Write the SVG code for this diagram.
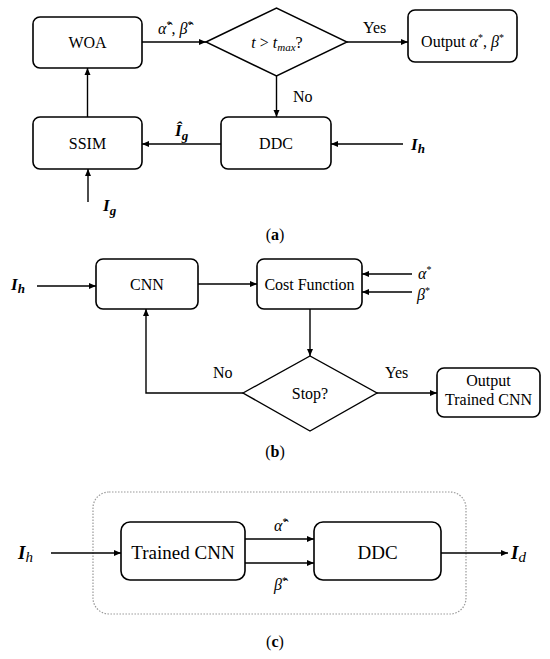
<svg xmlns="http://www.w3.org/2000/svg" width="550" height="659" viewBox="0 0 550 659">
<style>
.box{fill:#fff;stroke:#000;stroke-width:1.6}
.dia{fill:#fff;stroke:#000;stroke-width:1.4}
.ln{fill:none;stroke:#000;stroke-width:1.4}
.t{font-size:16px;text-anchor:middle}
.m{font-style:italic}
.b{font-weight:bold;font-style:italic}
.cap{font-size:16px;text-anchor:middle}
</style>
<defs>
<marker id="ah" markerWidth="8" markerHeight="8" refX="7" refY="4" orient="auto" markerUnits="userSpaceOnUse">
<path d="M0,1 L7,4 L0,7 Z" fill="#000"/>
</marker>
</defs>

<!-- (a) -->
<g id="woa"><rect class="box" x="33" y="17" width="109" height="51" rx="7"/><text font-family="Times New Roman, Liberation Serif, serif" class="t" x="87.5" y="48">WOA</text></g>
<g id="cond"><polygon class="dia" points="206,42 276.5,8 347,42 276.5,76"/><text font-family="Times New Roman, Liberation Serif, serif" class="t" x="277" y="48"><tspan class="m">t</tspan> &gt; <tspan class="m">t</tspan><tspan class="m" font-size="11" dy="3">max</tspan><tspan dy="-3">?</tspan></text></g>
<g id="outa"><rect class="box" x="408" y="10" width="109" height="52" rx="7"/><text font-family="Times New Roman, Liberation Serif, serif" class="t" x="462.5" y="47">Output <tspan class="m">α</tspan><tspan font-size="10" dy="-6">*</tspan><tspan dy="6">, </tspan><tspan class="m">β</tspan><tspan font-size="10" dy="-6">*</tspan></text></g>
<g id="ddca"><rect class="box" x="221" y="117" width="110" height="52" rx="7"/><text font-family="Times New Roman, Liberation Serif, serif" class="t" x="276" y="149">DDC</text></g>
<g id="ssim"><rect class="box" x="33" y="117" width="109" height="52" rx="7"/><text font-family="Times New Roman, Liberation Serif, serif" class="t" x="87.5" y="149">SSIM</text></g>

<!-- (b) -->
<g id="cnn"><rect class="box" x="96" y="259" width="102" height="50" rx="7"/><text font-family="Times New Roman, Liberation Serif, serif" class="t" x="147" y="290">CNN</text></g>
<g id="cost"><rect class="box" x="257" y="259" width="105" height="50" rx="7"/><text font-family="Times New Roman, Liberation Serif, serif" class="t" x="309.5" y="290">Cost Function</text></g>
<g id="stop"><polygon class="dia" points="243,393 310,356 377,393 310,431"/><text font-family="Times New Roman, Liberation Serif, serif" class="t" x="310" y="399">Stop?</text></g>
<g id="outb"><rect class="box" x="437" y="368" width="103" height="49" rx="7"/><text font-family="Times New Roman, Liberation Serif, serif" class="t" x="488.5" y="386">Output</text><text font-family="Times New Roman, Liberation Serif, serif" class="t" x="488.5" y="405">Trained CNN</text></g>

<!-- (c) -->
<g id="frame"><rect x="93" y="492" width="373" height="122" rx="16" fill="none" stroke="#999" stroke-width="1.2" stroke-dasharray="1.5,1.5"/></g>
<g id="tcnn"><rect class="box" x="121" y="522" width="124" height="58" rx="9"/><text font-family="Times New Roman, Liberation Serif, serif" x="183" y="559" font-size="19" text-anchor="middle">Trained CNN</text></g>
<g id="ddcc"><rect class="box" x="314" y="522" width="127" height="58" rx="9"/><text font-family="Times New Roman, Liberation Serif, serif" x="377.5" y="559" font-size="19" text-anchor="middle">DDC</text></g>

<g id="connectors">
<line class="ln" x1="142" y1="42" x2="206" y2="42" marker-end="url(#ah)"/>
<line class="ln" x1="347" y1="42" x2="408" y2="42" marker-end="url(#ah)"/>
<line class="ln" x1="276.5" y1="76" x2="276.5" y2="117" marker-end="url(#ah)"/>
<line class="ln" x1="403" y1="144" x2="331" y2="144" marker-end="url(#ah)"/>
<line class="ln" x1="221" y1="144" x2="142" y2="144" marker-end="url(#ah)"/>
<line class="ln" x1="87.5" y1="117" x2="87.5" y2="68" marker-end="url(#ah)"/>
<line class="ln" x1="88" y1="202" x2="88" y2="169" marker-end="url(#ah)"/>

<line class="ln" x1="37" y1="286" x2="96" y2="286" marker-end="url(#ah)"/>
<line class="ln" x1="198" y1="284" x2="257" y2="284" marker-end="url(#ah)"/>
<line class="ln" x1="412" y1="274" x2="362" y2="274" marker-end="url(#ah)"/>
<line class="ln" x1="412" y1="292" x2="362" y2="292" marker-end="url(#ah)"/>
<line class="ln" x1="310" y1="309" x2="310" y2="356" marker-end="url(#ah)"/>
<polyline class="ln" points="243,393 146,393 146,309" marker-end="url(#ah)"/>
<line class="ln" x1="377" y1="393" x2="437" y2="393" marker-end="url(#ah)"/>

<line class="ln" x1="51" y1="553" x2="121" y2="553" marker-end="url(#ah)"/>
<line class="ln" x1="245" y1="539" x2="314" y2="539" marker-end="url(#ah)"/>
<line class="ln" x1="245" y1="563" x2="314" y2="563" marker-end="url(#ah)"/>
<line class="ln" x1="441" y1="553" x2="508" y2="553" marker-end="url(#ah)"/>
</g>

<g id="labels">
<text font-family="Times New Roman, Liberation Serif, serif" x="158" y="34" font-size="16"><tspan class="m">α̂</tspan><tspan font-size="10" dy="-6">*</tspan><tspan dy="6">, </tspan><tspan class="m">β̂</tspan><tspan font-size="10" dy="-6">*</tspan></text>
<text font-family="Times New Roman, Liberation Serif, serif" x="363" y="33" font-size="16">Yes</text>
<text font-family="Times New Roman, Liberation Serif, serif" x="293" y="102" font-size="16">No</text>
<text font-family="Times New Roman, Liberation Serif, serif" x="175" y="136" font-size="17" class="b">Î<tspan font-size="13" dy="4">g</tspan></text>
<text font-family="Times New Roman, Liberation Serif, serif" x="411" y="150" font-size="17" class="b">I<tspan font-size="13" dy="3">h</tspan></text>
<text font-family="Times New Roman, Liberation Serif, serif" x="103" y="211" font-size="17" class="b">I<tspan font-size="13" dy="4">g</tspan></text>
<text font-family="Times New Roman, Liberation Serif, serif" class="cap" x="275" y="240">(<tspan font-weight="bold">a</tspan>)</text>

<text font-family="Times New Roman, Liberation Serif, serif" x="11" y="290" font-size="17" class="b">I<tspan font-size="13" dy="3">h</tspan></text>
<text font-family="Times New Roman, Liberation Serif, serif" x="418" y="279" font-size="16" class="m">α<tspan font-size="10" dy="-6" font-style="normal">*</tspan></text>
<text font-family="Times New Roman, Liberation Serif, serif" x="417" y="300" font-size="16" class="m">β<tspan font-size="10" dy="-6" font-style="normal">*</tspan></text>
<text font-family="Times New Roman, Liberation Serif, serif" x="213" y="378" font-size="16">No</text>
<text font-family="Times New Roman, Liberation Serif, serif" x="385" y="378" font-size="16">Yes</text>
<text font-family="Times New Roman, Liberation Serif, serif" class="cap" x="275" y="457">(<tspan font-weight="bold">b</tspan>)</text>

<text font-family="Times New Roman, Liberation Serif, serif" x="274" y="531" font-size="16" class="m">α̂<tspan font-size="10" dy="-6" font-style="normal">*</tspan></text>
<text font-family="Times New Roman, Liberation Serif, serif" x="274" y="590" font-size="16" class="m">β̂<tspan font-size="10" dy="-6" font-style="normal">*</tspan></text>
<text font-family="Times New Roman, Liberation Serif, serif" x="18" y="559" font-size="19" class="b">I<tspan font-size="15" dy="3" font-weight="normal">h</tspan></text>
<text font-family="Times New Roman, Liberation Serif, serif" x="511" y="559" font-size="19" class="b">I<tspan font-size="15" dy="3" font-weight="normal">d</tspan></text>
<text font-family="Times New Roman, Liberation Serif, serif" class="cap" x="275" y="647">(<tspan font-weight="bold">c</tspan>)</text>
</g>
</svg>
